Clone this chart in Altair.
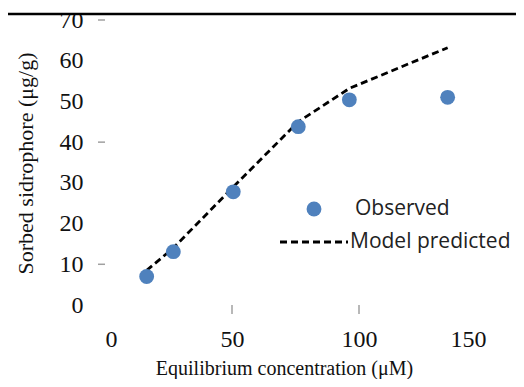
import altair as alt
import pandas as pd

# Data
obs_x = [16.4, 26.9, 50.5, 76.1, 96.2, 134.9]
obs_y = [7.0, 13.1, 27.8, 43.8, 50.4, 51.0]
model_x = [16.4, 26.9, 50.5, 76.1, 96.2, 134.9]
model_y = [8.5, 14.0, 29.0, 45.0, 53.2, 63.2]
x_ticks = [0, 50, 100, 150]
y_ticks = [0, 10, 20, 30, 40, 50, 60, 70]
x_tick_marks = [50, 100]
y_tick_marks = [10, 40, 70]
legend_labels = ["Observed", "Model predicted"]
x_title = "Equilibrium concentration (\u03bcM)"
y_title = "Sorbed sidrophore (\u03bcg/g)"

BLUE = "#4F81BD"
W, H = 381, 285

obs_df = pd.DataFrame({"x": obs_x, "y": obs_y})
model_df = pd.DataFrame({"x": model_x, "y": model_y})
xt_df = pd.DataFrame({"x": x_tick_marks})
yt_df = pd.DataFrame({"y": y_tick_marks})

xscale = alt.Scale(domain=[0, 150], nice=False)
yscale = alt.Scale(domain=[0, 70], nice=False)

xaxis = alt.Axis(values=x_ticks, title=x_title, labelPadding=22,
                 titleX=179, titleY=73, titleBaseline="bottom", titleAlign="center")
yaxis = alt.Axis(values=y_ticks, title=y_title, labelPadding=22,
                 titleX=-80, titleY=143, titleBaseline="middle", titleAlign="center",
                 titleFontSize=22)

model = alt.Chart(model_df).mark_line(
    color="black", strokeWidth=2.8, strokeDash=[7, 4]
).encode(
    x=alt.X("x:Q", scale=xscale, axis=xaxis),
    y=alt.Y("y:Q", scale=yscale, axis=yaxis),
)

obs = alt.Chart(obs_df).mark_circle(size=220, color=BLUE, opacity=1).encode(
    x=alt.X("x:Q", scale=xscale),
    y=alt.Y("y:Q", scale=yscale),
)

yticks = alt.Chart(yt_df).mark_rule(color="#a0a0a0", strokeWidth=1.5).encode(
    y=alt.Y("y:Q", scale=yscale),
    x=alt.value(-7), x2=alt.value(0),
)
xticks = alt.Chart(xt_df).mark_rule(color="#a0a0a0", strokeWidth=1.5).encode(
    x=alt.X("x:Q", scale=xscale),
    y=alt.value(H), y2=alt.value(H + 9),
)

one = alt.Data(values=[{}])
leg_dot = alt.Chart(one).mark_circle(size=220, color=BLUE, opacity=1).encode(
    x=alt.value(209), y=alt.value(189))
leg_dash = alt.Chart(one).mark_rule(color="black", strokeWidth=2.8, strokeDash=[7, 4]).encode(
    x=alt.value(175), x2=alt.value(243), y=alt.value(222))
leg_t1 = alt.Chart(one).mark_text(text=legend_labels[0], font="Open Sans", fontSize=21,
                                  align="left", baseline="middle", color="#222").encode(
    x=alt.value(250), y=alt.value(189))
leg_t2 = alt.Chart(one).mark_text(text=legend_labels[1], font="Open Sans", fontSize=21,
                                  align="left", baseline="middle", color="#222").encode(
    x=alt.value(245), y=alt.value(222))

top_line = alt.Chart(one).mark_rule(color="black", strokeWidth=2.5, strokeCap="butt").encode(
    x=alt.value(-97), x2=alt.value(411), y=alt.value(-6))

chart = alt.layer(
    model, obs, yticks, xticks, leg_dot, leg_dash, leg_t1, leg_t2, top_line
).properties(
    width=W, height=H,
    autosize=alt.AutoSizeParams(type="none"),
    padding={"left": 97, "top": 12, "right": 30, "bottom": 74},
).configure_view(stroke=None).configure_axis(
    domain=False, ticks=False, grid=False,
    labelFont="Liberation Serif", labelFontSize=24, labelColor="#111",
    titleFont="Liberation Serif", titleFontSize=20, titleFontWeight="normal", titleColor="#111",
)

chart.save("out.html", embed_options={"renderer": "svg", "actions": False})
